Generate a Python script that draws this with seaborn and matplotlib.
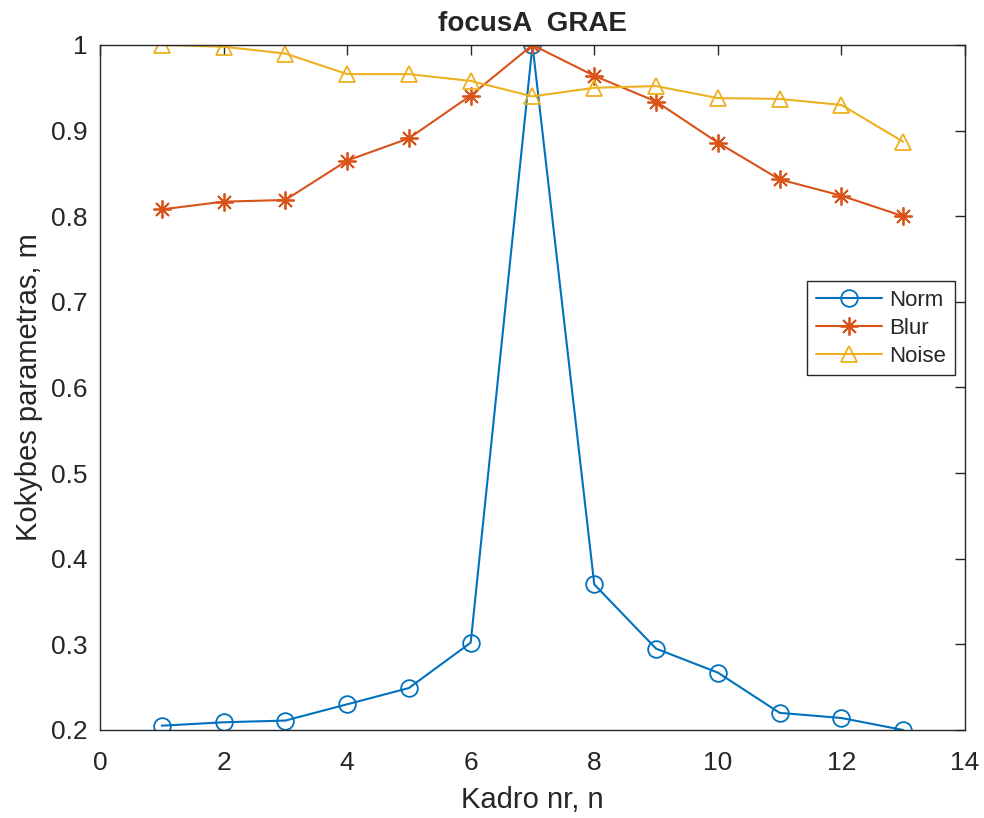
import matplotlib
matplotlib.use('Agg')
import matplotlib.pyplot as plt
import seaborn as sns
import pandas as pd

frames = list(range(1, 14))
norm = [0.205, 0.209, 0.211, 0.230, 0.249, 0.302, 1.0, 0.370, 0.295, 0.267, 0.220, 0.214, 0.200]
blur = [0.808, 0.817, 0.819, 0.865, 0.891, 0.941, 1.0, 0.964, 0.934, 0.886, 0.843, 0.824, 0.800]
noise = [1.0, 0.998, 0.990, 0.966, 0.966, 0.958, 0.940, 0.950, 0.952, 0.938, 0.937, 0.930, 0.887]

sns.set_style('white')
plt.rcParams['font.family'] = ['Liberation Sans', 'DejaVu Sans']

df = pd.DataFrame({'n': frames, 'Norm': norm, 'Blur': blur, 'Noise': noise})

fig = plt.figure(figsize=(9.84, 8.18), dpi=100)
ax = fig.add_axes([0.1016, 0.1076, 0.8791, 0.8374])

# MATLAB default colour order; asterisk marker = 8-armed
styles = [('Norm', '#0072BD', 'o', 12), ('Blur', '#D95319', (8, 2, 0), 13), ('Noise', '#EDB120', '^', 12)]
for name, col, mk, ms in styles:
    sns.lineplot(data=df, x='n', y=name, ax=ax, color=col, marker=mk,
                 markersize=ms, markerfacecolor='none',
                 markeredgecolor=col, markeredgewidth=1.3, linewidth=1.5, label=name)

ax.set_xlim(0, 14)
ax.set_ylim(0.2, 1.0)
ax.set_xticks(range(0, 15, 2))
ax.set_yticks([0.2, 0.3, 0.4, 0.5, 0.6, 0.7, 0.8, 0.9, 1.0])
ax.set_yticklabels(['0.2', '0.3', '0.4', '0.5', '0.6', '0.7', '0.8', '0.9', '1'])
ax.tick_params(direction='in', top=True, right=True, length=7, width=1,
               labelsize=19, colors='#262626')
ax.tick_params(axis='x', pad=15)
ax.tick_params(axis='y', pad=9)
for s in ax.spines.values():
    s.set_visible(True)
    s.set_color('#262626')
    s.set_linewidth(1.0)

ax.set_title('focusA  GRAE', fontsize=20, fontweight='bold', pad=10)
ax.set_xlabel('Kadro nr, n', fontsize=21, color='#262626', labelpad=8)
ax.set_ylabel('Kokybes parametras, m', fontsize=21, color='#262626', labelpad=6)

leg = ax.legend(loc='upper right', bbox_to_anchor=(0.988, 0.655), fontsize=16,
                handlelength=3.0, fancybox=False, edgecolor='#262626', borderaxespad=0,
                framealpha=1, borderpad=0.4, labelspacing=0.3, handletextpad=0.3)
leg.get_frame().set_linewidth(1.0)

fig.savefig('out.png', dpi=100)
